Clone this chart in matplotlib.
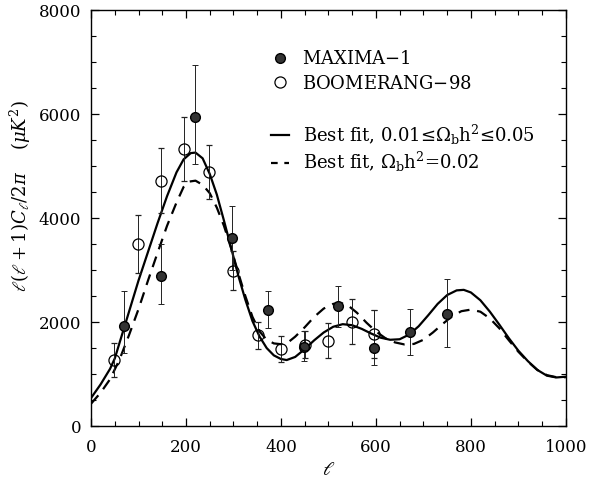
import numpy as np
import matplotlib.pyplot as plt
from matplotlib.ticker import MultipleLocator
from matplotlib.lines import Line2D

plt.rcParams['font.family'] = ['DejaVu Serif']
plt.rcParams['mathtext.fontset'] = 'dejavuserif'

# MAXIMA-1 band powers
max_l = [70, 147, 219, 297, 372, 449, 521, 597, 672, 749]
max_c = [1930, 2880, 5950, 3620, 2230, 1520, 2300, 1500, 1810, 2160]
max_lo = [520, 540, 900, 620, 350, 270, 400, 320, 440, 630]
max_hi = [660, 620, 1000, 610, 360, 300, 400, 730, 450, 670]

# BOOMERANG-98 band powers
boo_l = [49, 98, 147, 196, 249, 298, 351, 400, 451, 500, 550, 597]
boo_c = [1270, 3500, 4720, 5330, 4880, 2990, 1750, 1480, 1560, 1640, 2010, 1770]
boo_err = [320, 560, 620, 620, 520, 380, 260, 250, 260, 340, 430, 470]

# best fit, 0.01 <= Omega_b h^2 <= 0.05 (solid)
fit_l = [0, 20, 40, 50, 60, 80, 100, 120, 140, 160, 180, 195, 210, 220, 235, 250,
         265, 280, 295, 310, 325, 340, 355, 370, 385, 400, 412, 430, 450, 470, 490,
         510, 530, 550, 570, 590, 610, 630, 650, 670, 690, 710, 730, 750, 770, 785,
         800, 820, 840, 860, 880, 900, 920, 940, 960, 980, 1000]
fit_free = [540, 800, 1100, 1300, 1600, 2200, 2800, 3350, 3900, 4420, 4880, 5130,
            5250, 5260, 5150, 4850, 4450, 3950, 3430, 2900, 2430, 2020, 1720, 1500,
            1360, 1290, 1270, 1330, 1480, 1650, 1800, 1910, 1960, 1940, 1870, 1780,
            1700, 1660, 1670, 1760, 1920, 2130, 2350, 2520, 2610, 2620, 2570, 2420,
            2200, 1950, 1690, 1450, 1250, 1080, 970, 935, 950]

# best fit, Omega_b h^2 = 0.02 (dashed)
dash_l = [0, 20, 40, 60, 80, 100, 120, 140, 160, 180, 195, 205, 220, 235, 250, 265,
          280, 295, 310, 325, 340, 355, 370, 385, 400, 415, 430, 450, 470, 490, 510,
          525, 540, 560, 580, 600, 620, 640, 660, 680, 700, 720, 740, 760, 780, 800,
          820, 840, 860, 880, 900, 920, 940, 960, 980, 1000]
fit_bbn = [430, 640, 900, 1280, 1750, 2250, 2800, 3330, 3850, 4300, 4600, 4700,
           4720, 4640, 4480, 4200, 3850, 3420, 2950, 2500, 2100, 1820, 1660, 1590,
           1575, 1610, 1720, 1900, 2100, 2260, 2350, 2370, 2330, 2180, 1990, 1820,
           1690, 1610, 1570, 1580, 1660, 1800, 1960, 2110, 2210, 2240, 2200, 2070,
           1880, 1650, 1430, 1240, 1080, 980, 940, 940]

fig = plt.figure(figsize=(5.95, 4.82), dpi=100)
ax = fig.add_axes([0.153, 0.116, 0.798, 0.863])

ax.plot(fit_l, fit_free, color='black', lw=1.6)
ax.plot(dash_l, fit_bbn, color='black', lw=1.6, dashes=(5, 3.5))

ax.errorbar(max_l, max_c, yerr=[max_lo, max_hi], fmt='o', ms=7, mfc='#333333',
            mec='black', ecolor='#222222', elinewidth=0.7, capsize=2.5, capthick=0.7)
ax.errorbar(boo_l, boo_c, yerr=boo_err, fmt='o', ms=8, mfc='none',
            mec='black', mew=0.9, ecolor='#222222', elinewidth=0.7, capsize=2.5, capthick=0.7)

ax.set_xlim(0, 1000)
ax.set_ylim(0, 8000)
ax.xaxis.set_major_locator(MultipleLocator(200))
ax.xaxis.set_minor_locator(MultipleLocator(50))
ax.yaxis.set_major_locator(MultipleLocator(2000))
ax.yaxis.set_minor_locator(MultipleLocator(500))
ax.tick_params(which='both', direction='in', top=True, right=True, labelsize=12)
ax.tick_params(axis='y', pad=7)
ax.tick_params(axis='x', pad=9)
ax.tick_params(which='major', length=6, width=0.9)
ax.tick_params(which='minor', length=3.5, width=0.8)
for s in ax.spines.values():
    s.set_linewidth(1.0)

ax.set_xlabel(r'$\ell$', fontsize=14, labelpad=4)
ax.set_ylabel(r'$\ell(\ell+1)C_\ell/2\pi$    $(\mu K^2)$', fontsize=13)
ax.yaxis.set_label_coords(-0.122, 0.553)

h1 = [Line2D([], [], ls='none', marker='o', ms=7, mfc='#333333', mec='black'),
      Line2D([], [], ls='none', marker='o', ms=8, mfc='none', mec='black', mew=0.9)]
leg1 = ax.legend(h1, ['MAXIMA$-$1', 'BOOMERANG$-$98'], loc='upper left',
                 bbox_to_anchor=(0.36, 0.925), frameon=False, fontsize=13,
                 handlelength=1.0, handletextpad=0.7, labelspacing=0.35, borderpad=0)
ax.add_artist(leg1)
h2 = [Line2D([], [], color='black', lw=1.6),
      Line2D([], [], color='black', lw=1.6, dashes=(3, 3))]
ax.legend(h2, ['Best fit, 0.01≤Ω$_{\\rm b}$h$^2$≤0.05',
               'Best fit, Ω$_{\\rm b}$h$^2$=0.02'], loc='upper left',
          bbox_to_anchor=(0.36, 0.752), frameon=False, fontsize=13,
          handlelength=1.0, handletextpad=0.8, labelspacing=0.2, borderpad=0)

fig.savefig('out.png', dpi=100)
